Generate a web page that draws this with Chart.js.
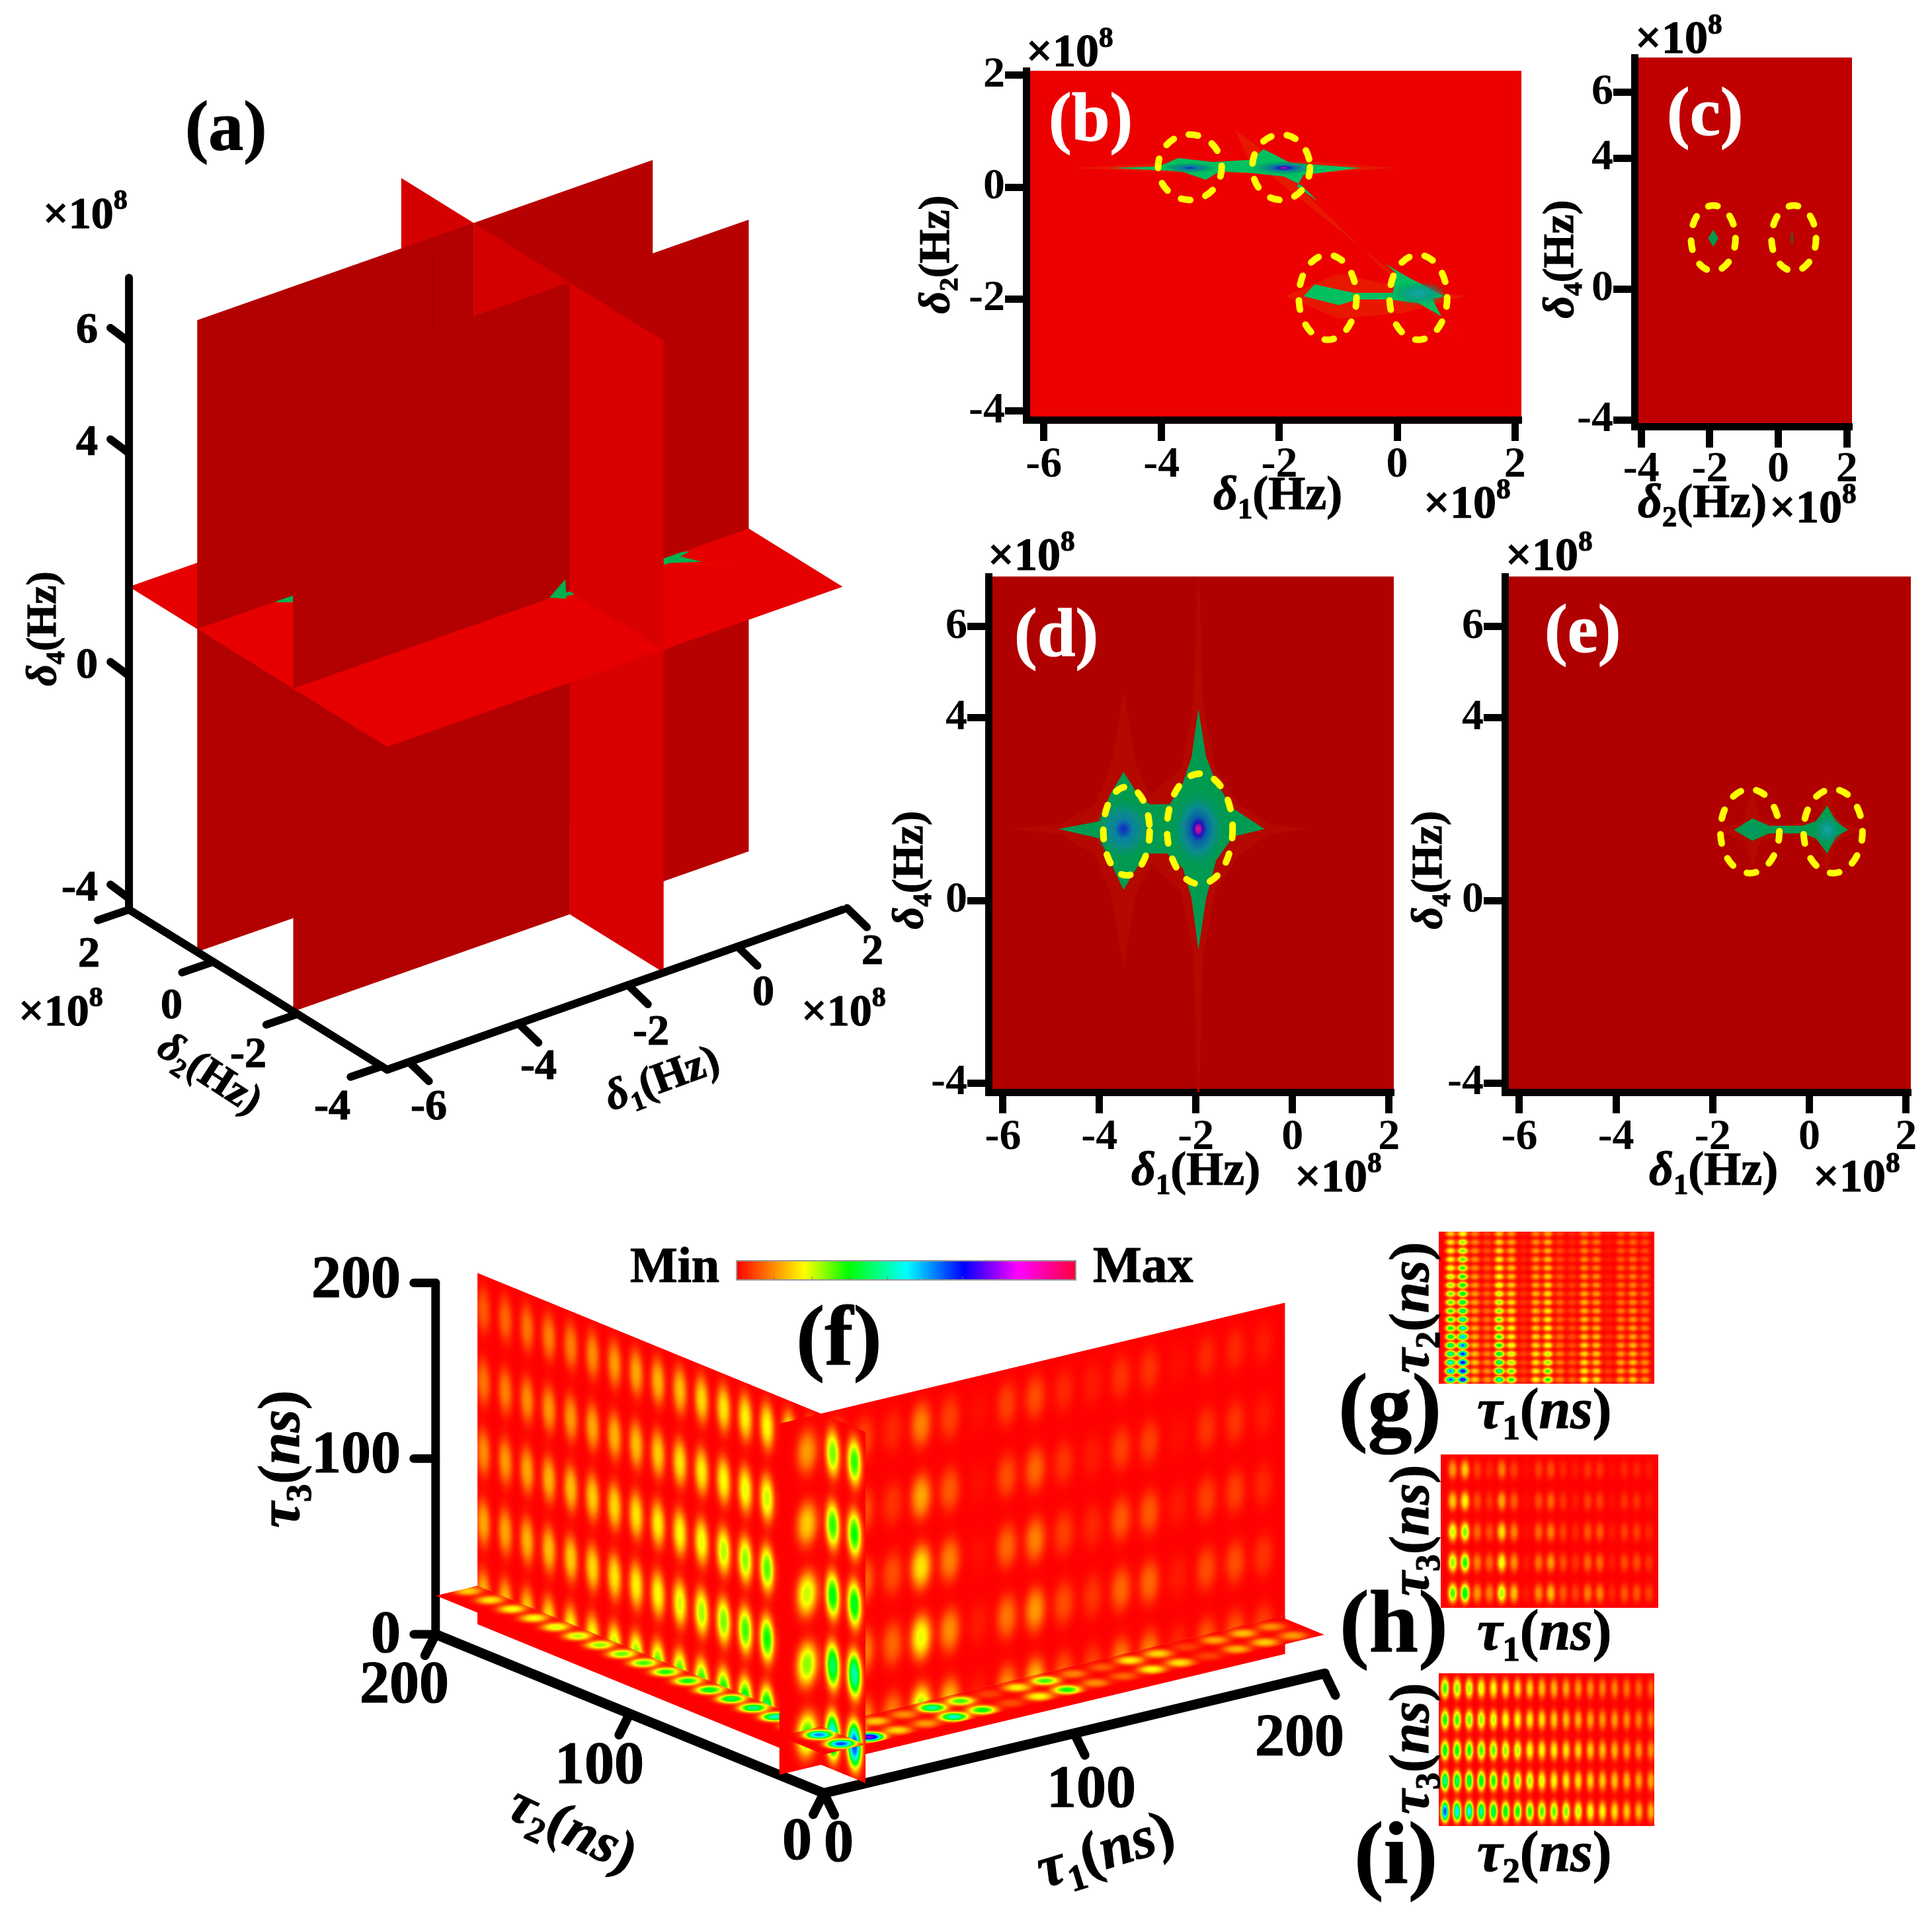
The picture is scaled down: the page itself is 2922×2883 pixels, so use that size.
<!doctype html>
<html><head><meta charset="utf-8">
<style>html,body{margin:0;background:#fff}body{width:2922px;height:2883px;position:relative;overflow:hidden}canvas{position:absolute}</style>
<script src="https://cdn.jsdelivr.net/npm/chart.js@4"></script>
</head><body>
<script>
// ---------- tick labels ----------
const d1Ticks=[-6,-4,-2,0,2], d2TicksB=[-4,-2,0,2], d2TicksC=[-4,-2,0,2], d4Ticks=[-4,0,4,6], d2Ticks3D=[2,0,-2,-4], tauTicks=[0,100,200];
// ---------- panel (b): delta1 / delta2 shapes ----------
const bUpperX=[-4.86,-4.04,-3.72,-3.12,-2.47,-2.27,-1.81,-0.62,-1.59,-1.70,-1.35,-1.62,-1.92,-2.47,-3.01,-3.25,-3.66,-4.04,-4.86];
const bUpperY=[.343,.37,.52,.45,.49,.68,.43,.343,.22,.01,-.25,.03,.19,.25,.28,.13,.28,.30,.343];
const bLowerX=[-1.59,-1.40,-.73,-.07,-.02,-.20,.15,.80,.60,.75,.36,-.13,-.67,-.99,-1.59];
const bLowerY=[-1.95,-1.74,-1.89,-1.89,-1.53,-1.37,-1.59,-1.95,-2.0,-2.31,-2.07,-2.01,-2.01,-2.11,-1.95];
const bHaloX=[-2.75,-2.4,-.25,1.05,-.05,-2.55,-2.75];
const bHaloY=[1.02,.75,-1.45,-2.7,-1.55,.55,1.02];
const bStreakX=[-5.5,-3.9,-1.5,-.05,-1.5,-3.9,-5.5];
const bStreakY=[.343,.43,.46,.343,.23,.26,.343];
const bGlowX=[-1.9,-1.0,-.1,1.15,.1,-1.0,-1.9];
const bGlowY=[-1.95,-1.55,-1.75,-1.95,-2.25,-2.35,-1.95];
const bCentres=[-3.52,-1.97,-1.18,.36], bRows=[.355,.355,-1.97,-1.97], bRadX=[.54,.49,.49,.49], bRadY=[.585,.585,.76,.76];
// ---------- panel (c) ----------
const cDiamondX=[-2.05,-1.9,-1.75,-1.9,-2.05], cDiamondY=[1.55,1.81,1.55,1.29,1.55];
const cSlitX=[.37,.4,.43,.4,.37], cSlitY=[1.55,1.8,1.55,1.3,1.55];
const cCentres=[-1.9,.45], cRows=[1.55,1.55], cRadX=[.65,.65], cRadY=[1.0,1.0];
// ---------- panel (d) ----------
const dStarX=[-4.85,-3.99,-3.79,-3.5,-3.24,-2.96,-2.54,-2.27,-2.09,-1.95,-1.79,-1.58,-1.23,-.58,-1.23,-1.58,-1.79,-1.95,-2.09,-2.27,-2.6,-2.96,-3.24,-3.5,-3.79,-3.99,-4.85];
const dStarY=[1.565,1.74,2.3,2.82,2.39,2.11,2.11,2.58,3.15,4.2,3.15,2.58,2.02,1.565,1.4,.88,.04,-1.09,.04,.7,1.03,1.03,.7,.23,.88,1.36,1.565];
const dHaloX=[-5.8,-4.8,-4.1,-3.75,-3.5,-3.25,-2.95,-2.3,-2.05,-1.97,-1.93,-1.85,-1.6,-1.1,-.5,.3,-.5,-1.1,-1.6,-1.85,-1.93,-1.97,-2.05,-2.3,-2.95,-3.25,-3.5,-3.75,-4.1,-4.8,-5.8];
const dHaloY=[1.565,1.68,2.1,3.0,4.6,3.0,2.3,2.9,4.3,7.1,7.1,4.3,2.9,2.1,1.68,1.565,1.45,1.0,.2,-1.2,-4.2,-4.2,-1.2,.2,.8,.1,-1.5,.1,1.0,1.45,1.565];
const dCentres=[-3.44,-1.92], dRows=[1.52,1.57], dRadX=[.48,.68], dRadY=[.97,1.21];
// ---------- panel (e) ----------
const eStarX=[-1.56,-1.18,-.83,-.14,.14,.37,.55,.8,.55,.37,.14,-.14,-.83,-1.18,-1.56];
const eStarY=[1.545,1.8,1.64,1.64,1.74,2.08,1.74,1.545,1.4,1.03,1.36,1.47,1.47,1.31,1.545];
const eHaloX=[-1.9,-1.35,-1.18,-1.0,-.4,.2,.37,.55,1.1,.55,.37,.2,-.4,-1.0,-1.18,-1.35,-1.9];
const eHaloY=[1.545,1.75,2.5,1.75,1.65,1.8,2.6,1.8,1.545,1.3,.6,1.3,1.45,1.3,.7,1.3,1.545];
const eCentres=[-1.23,.49], eRows=[1.52,1.52], eRadX=[.61,.61], eRadY=[.92,.92];
// ---------- panel (a): plane positions and visible green marks ----------
const aD1Range=[-6.4,1.92], aD2Range=[-4.13,2.0], aD4Range=[-4.2,7.15];
const aPlanesD2=[.38,-1.9], aPlaneD1=-1.35, aPlaneD1Top=2.1, aFloorD4=1.6;
const aWedgeD1=[-4.99,-4.56,-4.78], aWedgeD2=[.367,.504,.213];
const aStarD1=[-1.72,-1.43,-1.41], aStarD4=[1.615,1.85,1.49];
// ---------- panels (f,g,h,i): delay images ----------
const tau1Cols=[10.9,22.2,33.5,44.7,56,67.3,78.6,89.9,101.1,112.4,123.7,135,146.2,157.5,168.8,180.1,191.3];
const tau2Rows=[5.2,16.5,27.8,39.1,50.4,61.7,73,84.3,95.6,106.9,118.2,129.5,140.8,152.1,163.4,174.7,186,197.3];
const tau3Rows=[19,59,99,139,180];
const tau2Cols=[5.7,16.9,28.2,39.4,50.7,61.9,73.1,84.4,95.6,106.9,118.1,129.3,140.6,151.8,163.1,174.3,185.5,196.8];
const gCols=[
[.62,.58,.5,.46,.42,.38,.35,.33,.32,.30,.28,.26,.24,.22,.2,.2,.18,.16],
[.75,.72,.7,.66,.6,.55,.5,.46,.42,.4,.38,.36,.34,.32,.3,.28,.26,.21],
[.17,.16,.16,.15,.15,.14,.14,.13,.13,.13,.12,.12,.12,.11,.11,.11,.1,.1],
[.12,.11,.11,.1,.1,.09,.09,.09,.08,.08,.08,.07,.07,.07,.06,.06,.06,.05],
[.47,.44,.41,.38,.35,.32,.3,.28,.27,.26,.24,.22,.2,.2,.19,.18,.17,.15],
[.34,.3,.26,.24,.22,.2,.2,.19,.18,.18,.17,.16,.15,.15,.14,.14,.13,.11],
[.06,.05,.05,.05,.05,.05,.04,.04,.04,.04,.04,.04,.03,.03,.03,.03,.03,.02],
[.2,.19,.18,.18,.17,.17,.16,.15,.15,.14,.14,.13,.13,.12,.12,.11,.11,.1],
[.33,.3,.27,.24,.21,.2,.2,.19,.19,.18,.18,.17,.16,.15,.15,.14,.14,.13],
[.11,.1,.1,.1,.09,.09,.09,.08,.08,.08,.07,.07,.07,.06,.06,.06,.05,.05],
[.08,.07,.07,.07,.06,.06,.06,.06,.05,.05,.05,.05,.04,.04,.04,.04,.03,.03],
[.2,.19,.18,.17,.17,.16,.15,.15,.14,.14,.13,.12,.12,.11,.11,.1,.1,.09],
[.18,.17,.16,.16,.15,.15,.14,.13,.13,.12,.12,.11,.11,.1,.1,.09,.09,.08],
[.05,.05,.04,.04,.04,.04,.03,.03,.03,.03,.03,.03,.02,.02,.02,.02,.02,.02],
[.14,.13,.13,.12,.12,.11,.11,.1,.1,.09,.09,.09,.08,.08,.07,.07,.07,.06],
[.16,.15,.15,.14,.14,.13,.13,.12,.12,.11,.11,.1,.1,.09,.09,.08,.08,.07],
[.12,.11,.11,.1,.1,.1,.09,.09,.08,.08,.08,.07,.07,.07,.06,.06,.06,.05]];
const hRows=[
[.30,.36,.12,.10,.25,.15,.02,.11,.15,.07,.05,.10,.10,.03,.07,.07,.05],
[.26,.32,.10,.08,.21,.11,.02,.09,.12,.06,.04,.08,.08,.02,.06,.06,.04],
[.23,.27,.08,.06,.18,.10,.01,.08,.10,.05,.03,.07,.07,.02,.05,.05,.03],
[.16,.20,.06,.04,.13,.07,.01,.06,.08,.04,.02,.05,.05,.01,.04,.04,.02],
[.12,.16,.05,.03,.10,.05,.01,.05,.06,.03,.02,.04,.04,.01,.03,.03,.02]];
const iRows=[
[.62,.52,.50,.45,.40,.36,.34,.32,.30,.29,.27,.24,.21,.20,.18,.16,.15,.14],
[.45,.40,.38,.36,.33,.30,.27,.25,.22,.20,.19,.18,.17,.16,.15,.14,.13,.13],
[.35,.34,.33,.30,.29,.26,.24,.21,.20,.19,.18,.17,.16,.15,.14,.13,.12,.11],
[.33,.31,.28,.26,.23,.21,.20,.19,.18,.16,.15,.14,.13,.12,.12,.11,.10,.09],
[.31,.27,.25,.22,.20,.19,.18,.17,.15,.14,.13,.12,.11,.10,.10,.09,.08,.07]];
const fCutTau1=16.7, fCutTau2=23, fCutTau3=22;
const colorPos=[0,.1,.2,.33,.5,.67,.83,1];
const colorVal=[[255,0,0],[255,128,0],[255,255,0],[0,255,0],[0,255,255],[0,0,255],[255,0,255],[255,0,60]];

const FONT='"Liberation Serif"';
const zip=(X,Y)=>X.map((x,i)=>({x,y:Y[i]}));
const poly=(data,color)=>({showLine:true,fill:'shape',backgroundColor:color,borderColor:color,borderWidth:0,pointRadius:0,tension:0,data});
function mk(left,top,w,h){const c=document.createElement('canvas');c.width=w;c.height=h;c.style.left=left+'px';c.style.top=top+'px';c.style.width=w+'px';c.style.height=h+'px';document.body.appendChild(c);return c;}
function inOrder(ds){ds.forEach((d,i)=>d.order=ds.length-i);return ds;}

// ---------- colour map and field images ----------
function cmap(v){v=Math.max(0,Math.min(1,v));let i=0;while(i<colorPos.length-2&&v>colorPos[i+1])i++;const t=(v-colorPos[i])/(colorPos[i+1]-colorPos[i]);const a=colorVal[i],b=colorVal[i+1];return[a[0]+(b[0]-a[0])*t,a[1]+(b[1]-a[1])*t,a[2]+(b[2]-a[2])*t];}
function fieldImage(cells,sx,sy){const N=1000,f=new Float32Array(N*N),k=N/200;
  for(const c of cells){const x0=Math.max(0,Math.floor((c.x-4*sx)*k)),x1=Math.min(N-1,Math.ceil((c.x+4*sx)*k)),y0=Math.max(0,Math.floor((c.y-4*sy)*k)),y1=Math.min(N-1,Math.ceil((c.y+4*sy)*k));
    for(let j=y0;j<=y1;j++){const dy=(j/k-c.y)/sy;for(let i=x0;i<=x1;i++){const dx=(i/k-c.x)/sx;f[j*N+i]+=c.v*Math.exp(-Math.pow(.5*(dx*dx+dy*dy),1.3));}}}
  const cv=document.createElement('canvas');cv.width=cv.height=N;const g=cv.getContext('2d'),im=g.createImageData(N,N);
  for(let j=0;j<N;j++)for(let i=0;i<N;i++){const rgb=cmap(f[j*N+i]),p=((N-1-j)*N+i)*4;im.data[p]=rgb[0];im.data[p+1]=rgb[1];im.data[p+2]=rgb[2];im.data[p+3]=255;}
  g.putImageData(im,0,0);return cv;}
const gCells=[],hCells=[],iCells=[];
tau1Cols.forEach((x,c)=>tau2Rows.forEach((y,r)=>gCells.push({x,y,v:gCols[c][r]})));
tau3Rows.forEach((y,r)=>tau1Cols.forEach((x,c)=>hCells.push({x,y,v:hRows[r][c]})));
tau3Rows.forEach((y,r)=>tau2Cols.forEach((x,c)=>iCells.push({x,y,v:iRows[r][c]})));
const gImg=fieldImage(gCells,3.2,3.0), hImg=fieldImage(hCells,2.8,8.5), iImg=fieldImage(iCells,2.5,9);

// ---------- 2D frequency panels ----------
function freqPanel(o){
  const L=130,T=60,R=60,B=140,w=o.r-o.l,h=o.b-o.t;
  const cv=mk(o.l-L,o.t-T,w+L+R,h+T+B);
  const tickFont={family:FONT,weight:'bold',size:o.fs||66};
  const axis=(min,max,ticks,size,prop,pad)=>({type:'linear',min,max,
    afterBuildTicks:s=>{s.ticks=ticks.map(value=>({value}));},
    afterFit:s=>{s[prop]=size;},
    ticks:{color:'#000',font:tickFont,padding:pad,autoSkip:false,maxRotation:0,minRotation:0,callback:v=>String(v)},
    grid:{display:true,drawOnChartArea:false,drawTicks:true,tickLength:32,tickWidth:11,tickColor:'#000'},
    border:{display:true,width:11,color:'#000'}});
  new Chart(cv,{type:'scatter',data:{datasets:inOrder(o.shapes)},
    options:{responsive:false,animation:false,devicePixelRatio:1,
      layout:{padding:{top:T,right:R,left:0,bottom:0}},
      plugins:{legend:{display:false},tooltip:{enabled:false}},
      scales:{x:axis(o.x[0],o.x[1],o.xt,B,'height',o.xpad??-3),y:axis(o.y[0],o.y[1],o.yt,L,'width',o.ypad??0)}},
    plugins:[{id:'bg',beforeDraw(ch){const a=ch.chartArea,c=ch.ctx;c.save();c.fillStyle=o.bg;c.fillRect(a.left,a.top,a.width,a.height);c.restore();},
      afterDatasetsDraw(ch){const c=ch.ctx,X=ch.scales.x,Y=ch.scales.y;
        c.save();c.beginPath();c.rect(ch.chartArea.left,ch.chartArea.top,ch.chartArea.width,ch.chartArea.height);c.clip();
        (o.blobs||[]).forEach(b=>{const px=X.getPixelForValue(b.x),py=Y.getPixelForValue(b.y),rx=Math.abs(X.getPixelForValue(b.x+b.rx)-px),ry=Math.abs(Y.getPixelForValue(b.y+b.ry)-py);
          c.save();c.translate(px,py);c.scale(rx,ry);const g=c.createRadialGradient(0,0,0,0,0,1);b.stops.forEach(s=>g.addColorStop(s[0],s[1]));c.fillStyle=g;c.beginPath();c.arc(0,0,1,0,7);c.fill();c.restore();});
        c.strokeStyle='#ffff00';c.lineWidth=o.yw||10;c.lineCap='round';c.setLineDash(o.dash||[14,24]);
        o.cx.forEach((x,i)=>{const px=X.getPixelForValue(x),py=Y.getPixelForValue(o.cy[i]);c.beginPath();c.ellipse(px,py,Math.abs(X.getPixelForValue(x+o.rx[i])-px),Math.abs(Y.getPixelForValue(o.cy[i]+o.ry[i])-py),0,0,Math.PI*2);c.stroke();});
        c.restore();}}]});
}
const hot=[[0,'#e0108a'],[.08,'#b010a0'],[.16,'#2010c0'],[.3,'#0a60a8'],[.55,'#0a8c90'],[1,'rgba(0,154,80,0)']];
const cool=[[0,'#1030c0'],[.1,'#1040b8'],[.3,'#0a80a0'],[.6,'#0a9080'],[1,'rgba(0,154,80,0)']];
const teal=[[0,'#10a8a8'],[.5,'rgba(10,150,140,.7)'],[1,'rgba(0,160,90,0)']];
const BGREEN='#00c060', DGREEN='#009a50';
freqPanel({l:1552,r:2301,t:107,b:635,x:[-6.3,2.11],y:[-4.16,2.08],xt:d1Ticks,yt:d2TicksB,bg:'#ec0000',
  shapes:[poly(zip(bHaloX,bHaloY),'#e81800'),poly(zip(bStreakX,bStreakY),'#e81800'),poly(zip(bGlowX,bGlowY),'#e81800'),poly(zip(bUpperX,bUpperY),BGREEN),poly(zip(bLowerX,bLowerY),BGREEN)],
  blobs:[{x:-3.52,y:.343,rx:.45,ry:.09,stops:cool},{x:-1.92,y:.343,rx:.55,ry:.12,stops:hot},{x:.36,y:-1.9,rx:.5,ry:.22,stops:teal}],
  cx:bCentres,cy:bRows,rx:bRadX,ry:bRadY});
freqPanel({l:2472,r:2801,t:87,b:645,x:[-4.2,2.15],y:[-4.2,7.07],xt:d2TicksC,yt:d4Ticks,bg:'#c00000',xpad:-6,
  shapes:[poly(zip(cDiamondX,cDiamondY),'#009a50'),poly(zip(cSlitX,cSlitY),'#007a40')],cx:cCentres,cy:cRows,rx:cRadX,ry:cRadY});
freqPanel({l:1495,r:2108,t:872,b:1652,x:[-6.3,2.1],y:[-4.2,7.1],xt:d1Ticks,yt:d4Ticks,bg:'#b00000',
  shapes:[poly(zip(dHaloX,dHaloY),'#b40800'),poly(zip(dStarX,dStarY),DGREEN)],
  blobs:[{x:-3.5,y:1.565,rx:.6,ry:.7,stops:cool},{x:-1.95,y:1.565,rx:.58,ry:.9,stops:hot}],
  cx:dCentres,cy:dRows,rx:dRadX,ry:dRadY});
freqPanel({l:2276,r:2890,t:872,b:1652,x:[-6.3,2.1],y:[-4.2,7.1],xt:d1Ticks,yt:d4Ticks,bg:'#b00000',
  shapes:[poly(zip(eHaloX,eHaloY),'#b40800'),poly(zip(eStarX,eStarY),DGREEN)],
  blobs:[{x:.37,y:1.545,rx:.32,ry:.35,stops:teal},{x:-1.18,y:1.545,rx:.25,ry:.2,stops:[[0,'rgba(10,150,120,.6)'],[1,'rgba(0,160,90,0)']]}],
  cx:eCentres,cy:eRows,rx:eRadX,ry:eRadY});

// ---------- g, h, i ----------
function delayPanel(l,t,r,b,cells,img){
  const cv=mk(l,t,r-l,b-t);
  const ax={type:'linear',min:0,max:200,display:false};
  new Chart(cv,{type:'scatter',data:{datasets:[{data:cells,pointRadius:0}]},
    options:{responsive:false,animation:false,devicePixelRatio:1,layout:{padding:0},plugins:{legend:{display:false},tooltip:{enabled:false}},scales:{x:ax,y:{...ax}}},
    plugins:[{id:'heat',afterDatasetsDraw(ch){const c=ch.ctx,X=ch.scales.x,Y=ch.scales.y,x0=X.getPixelForValue(0),x1=X.getPixelForValue(200),y1=Y.getPixelForValue(200),y0=Y.getPixelForValue(0);
      c.imageSmoothingEnabled=true;c.imageSmoothingQuality='high';c.drawImage(img,x0,y1,x1-x0,y0-y1);}}]});
}
delayPanel(2176,1863,2502,2093,gCells,gImg);
delayPanel(2179,2200,2508,2432,hCells,hImg);
delayPanel(2176,2531,2502,2762,iCells,iImg);

// ---------- overlay: 3D panels and all labels ----------
const pa=(d1,d2,d4)=>({x:852.4+82.8*d1-63.7*d2,y:915-29.1*d1-39.5*d2-84.2*d4});
const pf=(t1,t2,t3)=>({x:1246+3.788*t1-2.936*t2,y:2712.4-.906*t1-1.202*t2-2.658*t3});
const line=(a,b,w)=>({showLine:true,fill:false,borderColor:'#000',borderWidth:w||12,borderCapStyle:'round',pointRadius:0,data:[a,b]});
const [d1a,d1b]=aD1Range,[d2a,d2b]=aD2Range,[d4a,d4b]=aD4Range,[p1,p2]=aPlanesD2,A=aPlaneD1,F=aFloorD4;
const wallY=(d2,x0,x1,z0,z1,col)=>poly([pa(x0,d2,z0),pa(x1,d2,z0),pa(x1,d2,z1),pa(x0,d2,z1),pa(x0,d2,z0)],col);
const wallX=(y0,y1,z0,z1,col)=>poly([pa(A,y0,z0),pa(A,y1,z0),pa(A,y1,z1),pa(A,y0,z1),pa(A,y0,z0)],col);
const DARK='#b30000',DARKR='#b70000',LITE='#d40000',FLOOR='#e60000';
function stack(z0,z1){return[
  wallY(p1,A,d1b,z0,z1,DARKR),wallX(p1,aPlaneD1Top,z0,z1,LITE),wallY(p1,d1a,A,z0,z1,DARK),wallX(p2,p1,z0,z1,LITE),
  wallY(p2,A,d1b,z0,z1,DARKR),wallY(p2,d1a,A,z0,z1,DARK),wallX(d2a,p2,z0,z1,'#d80000')];}
const onFloor=(X,Y)=>X.map((x,i)=>pa(x,Y[i],F));
const datasetsA=[
  ...stack(d4a,F),
  poly([pa(d1a,d2a,F),pa(d1b,d2a,F),pa(d1b,d2b,F),pa(d1a,d2b,F),pa(d1a,d2a,F)],FLOOR),
  poly(onFloor(bHaloX,bHaloY),'#e81800'),
  poly(onFloor(bUpperX,bUpperY),'#00b050'),poly(onFloor(bLowerX,bLowerY),'#00b050'),
  poly(onFloor(aWedgeD1,aWedgeD2),'#00b050'),
  ...stack(F,d4b),
  poly(aStarD1.map((x,i)=>pa(x,p2,aStarD4[i])),'#00b050'),
  {showLine:true,fill:false,borderColor:'#a50000',borderWidth:3,pointRadius:0,data:[pa(-2.1,p1,5.5),pa(-2.1,p1,6.85)]},
  // axes
  line(pa(d1a,d2b,d4a),pa(d1a,d2b,d4b)),line(pa(d1a,d2b,d4a),pa(d1a,d2a,d4a)),line(pa(d1a,d2a,d4a),pa(d1b,d2a,d4a)),
];
d4Ticks.forEach(v=>{const p=pa(d1a,d2b,v);datasetsA.push(line(p,{x:p.x-28,y:p.y-21}));});
d2Ticks3D.forEach(v=>{const p=pa(d1a,v,d4a);datasetsA.push(line(p,{x:p.x-47,y:p.y+16}));});
d1Ticks.forEach(v=>{const p=pa(v,d2a,d4a);datasetsA.push(line(p,{x:p.x+30,y:p.y+29}));});
// delay-space axes
const Z=200;
datasetsA.push(line(pf(0,Z,0),pf(0,Z,Z),13),line(pf(0,Z,0),pf(0,0,0),15),line(pf(0,0,0),pf(Z,0,0),15));
tauTicks.forEach(v=>{const a=pf(0,Z,v);datasetsA.push(line(a,{x:a.x-33,y:a.y},13));
  const b=pf(0,v,0);datasetsA.push(line(b,{x:b.x-16,y:b.y+32},14));
  const e=pf(v,0,0);datasetsA.push(line(e,{x:e.x+16,y:e.y+33},14));});

function rich(c,parts,x,y,size,o={}){ // parts: [text,style]; i italic, s sub, p sup
  const font=(st)=>`${st.includes('i')?'italic ':''}bold ${st.includes('s')||st.includes('p')?size*.62:size}px ${FONT}`;
  let W=0;parts.forEach(([t,st=''])=>{c.font=font(st);W+=c.measureText(t).width;});
  c.save();c.translate(x,y);if(o.rot)c.rotate(o.rot*Math.PI/180);
  let cx=o.align==='c'?-W/2:o.align==='r'?-W:0;c.fillStyle=o.color||'#000';c.strokeStyle=o.color||'#000';c.lineWidth=1.2;c.textBaseline='alphabetic';
  parts.forEach(([t,st=''])=>{c.font=font(st);const dy=st.includes('s')?size*.2:st.includes('p')?-size*.42:0;c.fillText(t,cx,dy);c.strokeText(t,cx,dy);cx+=c.measureText(t).width;});
  c.restore();
}
const delta=(n)=>[['δ','i'],[String(n),'s'],['(Hz)','']];
const tau=(n)=>[['τ','i'],[String(n),'s'],['(',''],['ns','i'],[')','']];
const x108=[['×10',''],['8','p']];
const labels=[
 // panel letters
 [[['(a)','']],280,226,106,{}],[[['(b)','']],1586,212,104,{color:'#fff'}],[[['(c)','']],2521,204,104,{color:'#fff'}],
 [[['(d)','']],1534,992,104,{color:'#fff'}],[[['(e)','']],2336,986,104,{color:'#fff'}],
 [[['(f)','']],1204,2064,130,{}],[[['(g)','']],2024,2170,134,{}],[[['(h)','']],2026,2498,134,{}],[[['(i)','']],2048,2848,134,{}],
 // panel (a)
 [x108,65,345,68,{}],[delta(4),84,951,64,{rot:-90,align:'c'}],[delta(2),307,1640,64,{rot:33,align:'c'}],[delta(1),1008,1650,66,{rot:-20,align:'c'}],
 [x108,28,1551,68,{}],[x108,1212,1551,68,{}],
 [[['6','']],148,518,66,{align:'r'}],[[['4','']],148,688,66,{align:'r'}],[[['0','']],148,1025,66,{align:'r'}],[[['-4','']],148,1362,66,{align:'r'}],
 [[['2','']],151,1462,66,{align:'r'}],[[['0','']],276,1540,66,{align:'r'}],[[['-2','']],403,1614,66,{align:'r'}],[[['-4','']],530,1693,66,{align:'r'}],
 [[['-6','']],676,1693,66,{align:'r'}],[[['-4','']],842,1632,66,{align:'r'}],[[['-2','']],1012,1580,66,{align:'r'}],[[['0','']],1171,1520,66,{align:'r'}],[[['2','']],1336,1458,66,{align:'r'}],
 // panel (b)
 [x108,1552,100,70,{}],[delta(2),1435,385,66,{rot:-90,align:'c'}],[delta(1),1835,770,72,{}],[x108,2153,783,70,{}],
 // panel (c)
 [x108,2473,80,70,{}],[delta(4),2379,392,66,{rot:-90,align:'c'}],[delta(2),2477,782,72,{}],[x108,2676,790,70,{}],
 // panel (d)
 [x108,1494,862,70,{}],[delta(4),1395,1316,66,{rot:-90,align:'c'}],[delta(1),1711,1792,72,{}],[x108,1958,1802,70,{}],
 // panel (e)
 [x108,2277,862,70,{}],[delta(4),2180,1316,66,{rot:-90,align:'c'}],[delta(1),2494,1792,72,{}],[x108,2742,1802,70,{}],
 // panel (f)
 [[['200','']],606,1962,90,{align:'r'}],[[['100','']],606,2227,90,{align:'r'}],[[['0','']],606,2499,90,{align:'r'}],
 [[['200','']],544,2575,90,{}],[[['100','']],839,2697,90,{}],[[['0','']],1183,2812,90,{}],[[['0','']],1246,2815,90,{}],
 [[['100','']],1583,2733,90,{}],[[['200','']],1898,2655,90,{}],
 [tau(3),452,2207,88,{rot:-90,align:'c'}],[tau(2),855,2790,86,{rot:25,align:'c'}],[tau(1),1680,2825,90,{rot:-17,align:'c'}],
 [[['Min','']],953,1939,76,{}],[[['Max','']],1653,1939,78,{}],
 // g, h, i
 [tau(1),2234,2160,86,{}],[tau(2),2160,1978,84,{rot:-90,align:'c'}],[tau(1),2234,2495,86,{}],[tau(3),2160,2315,84,{rot:-90,align:'c'}],[tau(2),2234,2830,86,{}],[tau(3),2160,2645,84,{rot:-90,align:'c'}],
];
const over=mk(0,0,2922,2883);over.style.pointerEvents='none';
new Chart(over,{type:'scatter',data:{datasets:inOrder(datasetsA)},
 options:{responsive:false,animation:false,devicePixelRatio:1,layout:{padding:0},plugins:{legend:{display:false},tooltip:{enabled:false}},
  scales:{x:{type:'linear',min:0,max:2922,display:false},y:{type:'linear',min:0,max:2883,reverse:true,display:false}}},
 plugins:[{id:'textures',afterDatasetsDraw(ch){const c=ch.ctx,X=ch.scales.x,Y=ch.scales.y,px=p=>({x:X.getPixelForValue(p.x),y:Y.getPixelForValue(p.y)});
   const N=1000;
   function piece(img,P,a0,a1,b0,b1){ // P(a,b) maps image axes to the page
     const o=px(P(0,200)),e1=px(P(200,200)),e2=px(P(0,0)),q=[P(a0,b0),P(a1,b0),P(a1,b1),P(a0,b1)].map(px);
     c.save();c.beginPath();q.forEach((p,i)=>i?c.lineTo(p.x,p.y):c.moveTo(p.x,p.y));c.closePath();c.clip();
     c.imageSmoothingEnabled=true;c.imageSmoothingQuality='high';
     c.transform((e1.x-o.x)/N,(e1.y-o.y)/N,(e2.x-o.x)/N,(e2.y-o.y)/N,o.x,o.y);c.drawImage(img,0,0);c.restore();}
   function plain(P,a0,a1,b0,b1){const q=[P(a0,b0),P(a1,b0),P(a1,b1),P(a0,b1)].map(px);c.fillStyle='#ff0000';c.beginPath();q.forEach((p,i)=>i?c.lineTo(p.x,p.y):c.moveTo(p.x,p.y));c.closePath();c.fill();}
   const T1=fCutTau1,T2=fCutTau2,T3=fCutTau3,M=200;
   const L=(a,b)=>pf(T1,a,b),R=(a,b)=>pf(a*1.01,T2,b),G=(a,b)=>pf(a,b,T3);
   plain(L,T2,M,0,T3);plain(R,T1/1.01,M,0,T3);
   piece(iImg,L,T2,M,T3,M);piece(hImg,R,T1/1.01,M,T3,M);
   piece(gImg,G,0,T1,T2,M);piece(gImg,G,T1,M,0,T2);
   piece(iImg,L,0,T2,0,T3);piece(hImg,R,0,T1/1.01,0,T3);
   piece(gImg,G,0,T1,0,T2);
   piece(iImg,L,0,T2,T3,M);piece(hImg,R,0,T1/1.01,T3,M);
   // colour bar
   const x0=X.getPixelForValue(1114),x1=X.getPixelForValue(1627),y0=Y.getPixelForValue(1907),y1=Y.getPixelForValue(1936);
   const g=c.createLinearGradient(x0,0,x1,0);colorPos.forEach((p,i)=>g.addColorStop(p,`rgb(${colorVal[i].join(',')})`));
   c.fillStyle=g;c.fillRect(x0,y0,x1-x0,y1-y0);c.strokeStyle='#999';c.lineWidth=2;c.strokeRect(x0,y0,x1-x0,y1-y0);
   c.strokeStyle='#777';c.lineWidth=1;for(let k=1;k<9;k++){const xt=x0+(x1-x0)*k/9;c.beginPath();c.moveTo(xt,y1-5);c.lineTo(xt,y1);c.stroke();}
   // labels
   labels.forEach(l=>rich(c,l[0],l[1],l[2],l[3],l[4]));
 }}]});
</script>
</body></html>
